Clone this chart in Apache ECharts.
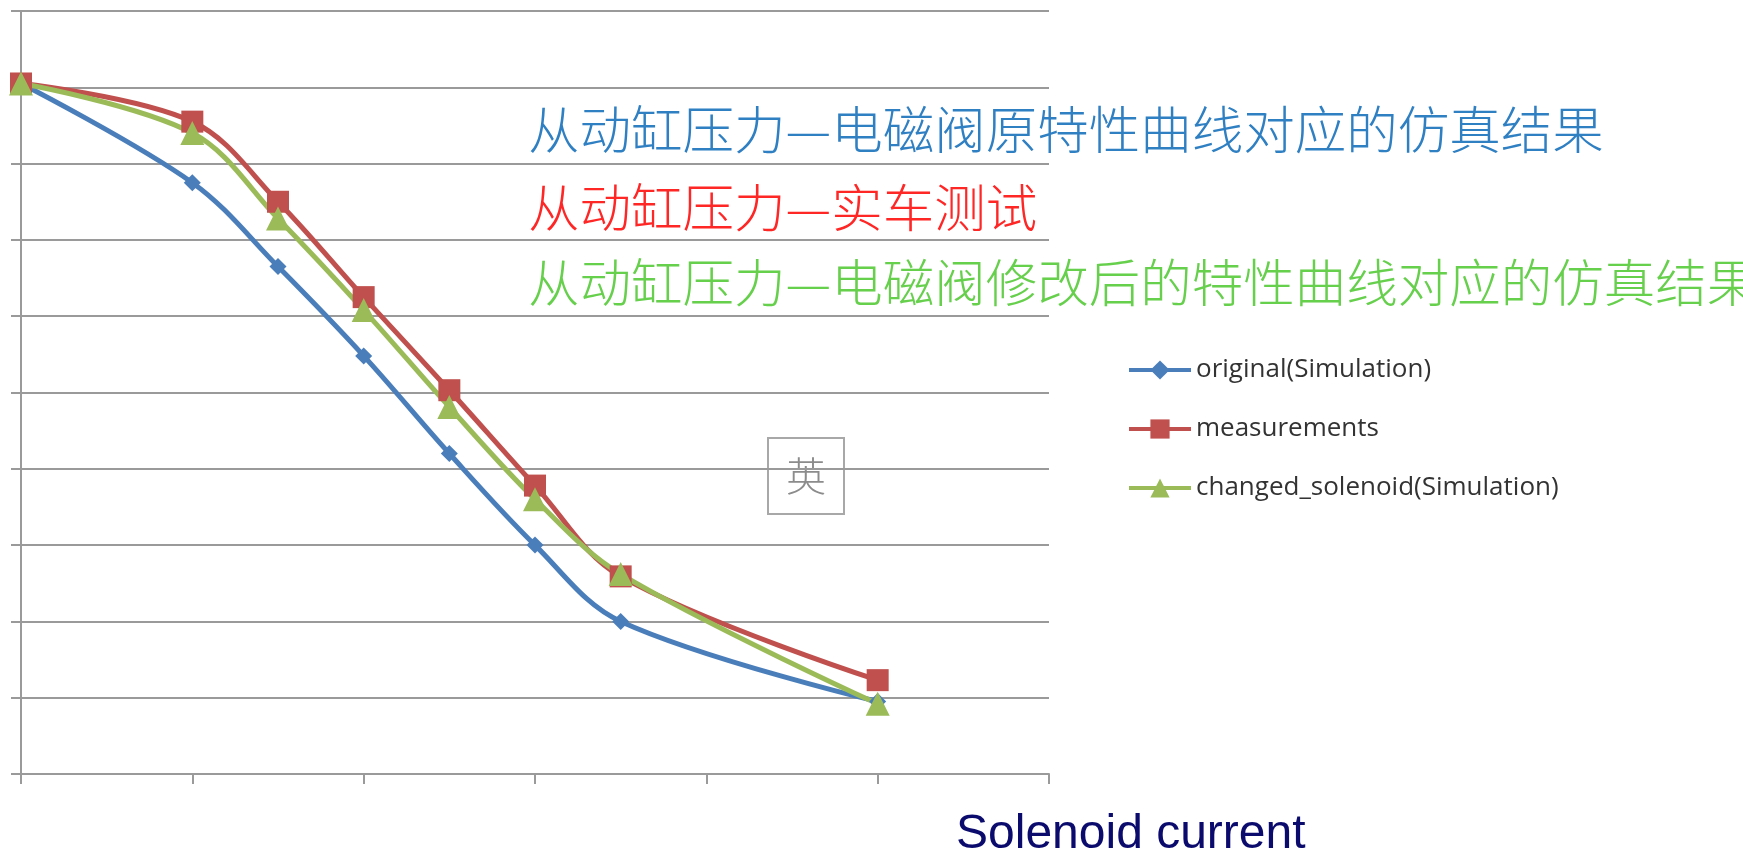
<!DOCTYPE html>
<html>
<head>
<meta charset="utf-8">
<title>Solenoid current</title>
<script src="https://cdn.jsdelivr.net/npm/echarts@6/dist/echarts.min.js"></script>
<style>
  html, body { margin: 0; padding: 0; background: #ffffff; }
  #chart { width: 1743px; height: 852px; }
</style>
</head>
<body>
<div id="chart"></div>
<script>
// Solenoid current steps (x) and slave cylinder pressure readings (y)
const current = [0, 1, 1.5, 2, 2.5, 3, 3.5, 5];
const originalSim = [9.05, 7.75, 6.65, 5.48, 4.20, 3.00, 2.00, 0.95];
const measurements = [9.05, 8.55, 7.50, 6.25, 5.03, 3.78, 2.59, 1.23];
const changedSim = [9.05, 8.40, 7.28, 6.08, 4.81, 3.60, 2.62, 0.92];

const seriesNames = ['original(Simulation)', 'measurements', 'changed_solenoid(Simulation)'];
const noteLines = [
  '从动缸压力—电磁阀原特性曲线对应的仿真结果',
  '从动缸压力—实车测试',
  '从动缸压力—电磁阀修改后的特性曲线对应的仿真结果'
];
const axisTitle = 'Solenoid current';

function pairs(ys) {
  return current.map((x, i) => [x, ys[i]]);
}

const gridColor = '#9a9a9a';
const chart = echarts.init(document.getElementById('chart'), null, { renderer: 'canvas' });

function lineSeries(name, ys, color, symbol, size) {
  return {
    name: name,
    type: 'line',
    data: pairs(ys),
    smooth: 0.35,
    clip: false,
    symbol: symbol,
    symbolSize: size,
    lineStyle: { color: color, width: 5 },
    itemStyle: { color: color },
    emphasis: { disabled: true }
  };
}

const noteFont = { fontFamily: 'Noto Sans CJK SC', fontSize: 51.5, fontWeight: 300 };

chart.setOption({
  backgroundColor: '#ffffff',
  animation: false,
  grid: { left: 21, top: 11, right: 694, bottom: 78, containLabel: false },
  xAxis: {
    type: 'value',
    min: 0, max: 6, interval: 1,
    axisLine: { show: true, lineStyle: { color: gridColor, width: 2 } },
    axisTick: { show: true, length: 10, lineStyle: { color: gridColor, width: 2 } },
    axisLabel: { show: false },
    splitLine: { show: false }
  },
  yAxis: {
    type: 'value',
    min: 0, max: 10, interval: 1,
    axisLine: { show: true, lineStyle: { color: gridColor, width: 2 } },
    axisTick: { show: true, length: 10, lineStyle: { color: gridColor, width: 2 } },
    axisLabel: { show: false },
    splitLine: { show: true, lineStyle: { color: gridColor, width: 2 } }
  },
  legend: {
    orient: 'vertical',
    left: 1127,
    top: 357,
    padding: 0,
    itemWidth: 62,
    itemHeight: 24,
    itemGap: 33,
    data: seriesNames,
    lineStyle: { width: 4 },
    textStyle: {
      fontFamily: 'Open Sans',
      fontSize: 26,
      color: '#333333',
      lineHeight: 24
    }
  },
  graphic: [
    {
      type: 'text', left: 528, top: 104, silent: true,
      style: Object.assign({ text: noteLines[0], fill: '#2f7fc3' }, noteFont)
    },
    {
      type: 'text', left: 528, top: 182, silent: true,
      style: Object.assign({ text: noteLines[1], fill: '#ff2626' }, noteFont)
    },
    {
      type: 'text', left: 528, top: 257, silent: true,
      style: Object.assign({ text: noteLines[2], fill: '#66cf4c' }, noteFont)
    },
    {
      type: 'group', left: 767, top: 437, silent: true,
      children: [
        {
          type: 'rect', shape: { x: 0, y: 0, width: 76, height: 76 },
          style: { fill: 'rgba(255,255,255,0)', stroke: '#a8a8a8', lineWidth: 2 }
        },
        {
          type: 'text', x: 38, y: 38,
          style: { text: '英', fontFamily: 'Noto Sans CJK SC', fontSize: 40, fontWeight: 300, fill: '#8c8c8c', align: 'center', verticalAlign: 'middle' }
        }
      ]
    },
    {
      type: 'text', left: 956, top: 811, silent: true,
      style: { text: axisTitle, fontFamily: 'Liberation Sans', fontSize: 48, fill: '#0b0b6e' }
    }
  ],
  series: [
    lineSeries(seriesNames[0], originalSim, '#4a7ebb', 'diamond', 17),
    lineSeries(seriesNames[1], measurements, '#c0504d', 'rect', 22),
    lineSeries(seriesNames[2], changedSim, '#9bbb59', 'triangle', 24)
  ]
});
</script>
</body>
</html>
